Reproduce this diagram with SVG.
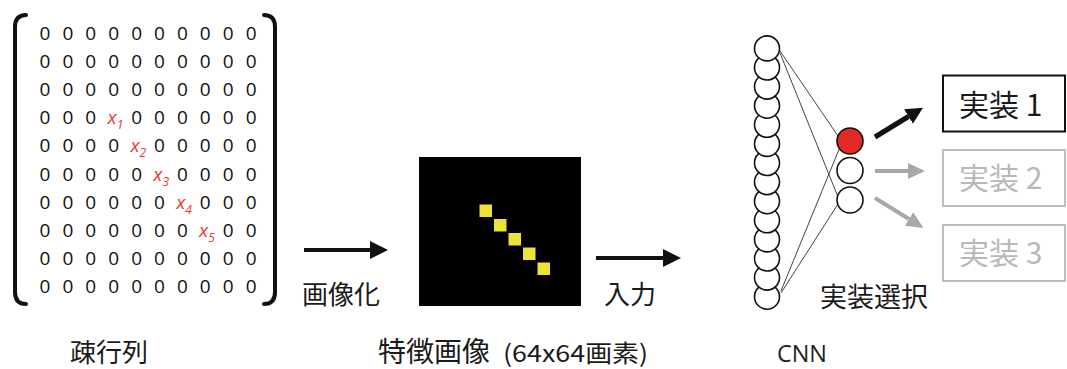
<svg xmlns="http://www.w3.org/2000/svg" width="1067" height="369" viewBox="0 0 1067 369">
<defs>
<style>
.z{font-family:"Open Sans","Noto Sans",sans-serif;font-size:19px;fill:#111;text-anchor:middle}
.xi{font-family:"Open Sans","Noto Sans",sans-serif;font-style:italic;font-size:19px;fill:#e8392f}
.xs{font-size:12px}
.jp{font-family:"Noto Sans CJK JP",sans-serif;fill:#1a1a1a}
.br{fill:none;stroke:#111;stroke-width:4;stroke-linecap:round}
.nn{fill:#fff;stroke:#111;stroke-width:1.6}
.wire{stroke:#444;stroke-width:1}
.ab{stroke:#111;stroke-width:4;fill:none}
.ag{stroke:#a8a8a8;stroke-width:4;fill:none}
.px{fill:#ebe23a}
</style>
<marker id="hb" markerUnits="userSpaceOnUse" markerWidth="18" markerHeight="18" refX="0" refY="9" orient="auto"><path d="M0,0 L18,9 L0,18 z" fill="#111"/></marker>
<marker id="hg" markerUnits="userSpaceOnUse" markerWidth="18" markerHeight="18" refX="0" refY="8" orient="auto"><path d="M0,0 L17,8 L0,16 z" fill="#a8a8a8"/></marker>
<marker id="hk" markerUnits="userSpaceOnUse" markerWidth="18" markerHeight="18" refX="0" refY="8.5" orient="auto"><path d="M0,0 L17,8.5 L0,17 z" fill="#111"/></marker>
</defs>
<rect width="1067" height="369" fill="#fff"/>

<g id="matrix">
<path class="br" d="M26,15 Q15,15 15,27 L15,292 Q15,304 26,304"/>
<path class="br" d="M264,15 Q275,15 275,27 L275,292 Q275,304 264,304"/>
<text class="z" x="45 67.9 90.8 113.7 136.6 159.5 182.4 205.3 228.2 251.1" y="39.5">0000000000</text>
<text class="z" x="45 67.9 90.8 113.7 136.6 159.5 182.4 205.3 228.2 251.1" y="67.7">0000000000</text>
<text class="z" x="45 67.9 90.8 113.7 136.6 159.5 182.4 205.3 228.2 251.1" y="95.9">0000000000</text>
<text class="z" x="45 67.9 90.8" y="124.1">000</text>
<text class="z" x="136.6 159.5 182.4 205.3 228.2 251.1" y="124.1">000000</text>
<text class="z" x="45 67.9 90.8 113.7" y="152.3">0000</text>
<text class="z" x="159.5 182.4 205.3 228.2 251.1" y="152.3">00000</text>
<text class="z" x="45 67.9 90.8 113.7 136.6" y="180.5">00000</text>
<text class="z" x="182.4 205.3 228.2 251.1" y="180.5">0000</text>
<text class="z" x="45 67.9 90.8 113.7 136.6 159.5" y="208.7">000000</text>
<text class="z" x="205.3 228.2 251.1" y="208.7">000</text>
<text class="z" x="45 67.9 90.8 113.7 136.6 159.5 182.4" y="236.9">0000000</text>
<text class="z" x="228.2 251.1" y="236.9">00</text>
<text class="z" x="45 67.9 90.8 113.7 136.6 159.5 182.4 205.3 228.2 251.1" y="265.1">0000000000</text>
<text class="z" x="45 67.9 90.8 113.7 136.6 159.5 182.4 205.3 228.2 251.1" y="293.3">0000000000</text>
<text class="xi" x="107.5" y="124.1">x<tspan class="xs" dy="5">1</tspan></text>
<text class="xi" x="130.4" y="152.3">x<tspan class="xs" dy="5">2</tspan></text>
<text class="xi" x="153.3" y="180.5">x<tspan class="xs" dy="5">3</tspan></text>
<text class="xi" x="176.2" y="208.7">x<tspan class="xs" dy="5">4</tspan></text>
<text class="xi" x="199.1" y="236.9">x<tspan class="xs" dy="5">5</tspan></text>
</g>

<g id="feature-image">
<rect x="419" y="157" width="162" height="149" fill="#000"/>
<rect class="px" x="479.5" y="204.5" width="12.5" height="12.5"/>
<rect class="px" x="494" y="219" width="12.5" height="12.5"/>
<rect class="px" x="508.5" y="233" width="12.5" height="12.5"/>
<rect class="px" x="523" y="247.5" width="12.5" height="12.5"/>
<rect class="px" x="537.5" y="262.5" width="12.5" height="12.5"/>
</g>

<g id="cnn">
<g class="wire">
<line x1="780" y1="51" x2="838" y2="136"/>
<line x1="780" y1="53" x2="838" y2="197"/>
<line x1="781" y1="291" x2="840" y2="147"/>
<line x1="781" y1="293" x2="838" y2="204"/>
</g>
<circle class="nn" cx="767" cy="296.7" r="12.5"/>
<circle class="nn" cx="767" cy="277.6" r="12.5"/>
<circle class="nn" cx="767" cy="258.5" r="12.5"/>
<circle class="nn" cx="767" cy="239.4" r="12.5"/>
<circle class="nn" cx="767" cy="220.3" r="12.5"/>
<circle class="nn" cx="767" cy="201.2" r="12.5"/>
<circle class="nn" cx="767" cy="182.1" r="12.5"/>
<circle class="nn" cx="767" cy="163.0" r="12.5"/>
<circle class="nn" cx="767" cy="143.9" r="12.5"/>
<circle class="nn" cx="767" cy="124.8" r="12.5"/>
<circle class="nn" cx="767" cy="105.7" r="12.5"/>
<circle class="nn" cx="767" cy="86.6" r="12.5"/>
<circle class="nn" cx="767" cy="67.5" r="12.5"/>
<circle class="nn" cx="767" cy="48.4" r="12.5"/>
<circle cx="850" cy="141" r="13" fill="#e32b25" stroke="#111" stroke-width="1.6"/>
<circle class="nn" cx="850" cy="170.5" r="13"/>
<circle class="nn" cx="850" cy="200" r="13"/>
</g>

<g id="impl1">
<rect x="943" y="75.5" width="122" height="56" fill="#fff" stroke="#111" stroke-width="2"/>
<text class="jp" x="959" y="116" font-size="30">実装 1</text>
</g>
<g id="impl2">
<rect x="943" y="150" width="122" height="56" fill="#fff" stroke="#bdbdbd" stroke-width="2"/>
<text class="jp" x="959" y="189" font-size="30" style="fill:#b8b8b8">実装 2</text>
</g>
<g id="impl3">
<rect x="943" y="225" width="122" height="56" fill="#fff" stroke="#bdbdbd" stroke-width="2"/>
<text class="jp" x="959" y="264" font-size="30" style="fill:#b8b8b8">実装 3</text>
</g>

<g id="connectors">
<line class="ab" x1="304" y1="250" x2="370" y2="250" marker-end="url(#hb)"/>
<line class="ab" x1="596" y1="258" x2="663" y2="258" marker-end="url(#hb)"/>
<line x1="875" y1="137" x2="908.5" y2="116.5" stroke="#111" stroke-width="5" marker-end="url(#hk)"/>
<line class="ag" x1="875" y1="171" x2="908" y2="171" marker-end="url(#hg)"/>
<line class="ag" x1="875" y1="198" x2="909" y2="219" marker-end="url(#hg)"/>
</g>

<g id="labels">
<text class="jp" x="302" y="304" font-size="26">画像化</text>
<text class="jp" x="604" y="304" font-size="26">入力</text>
<text class="jp" x="820" y="307" font-size="27">実装選択</text>
<text class="jp" x="70" y="362" font-size="26">疎行列</text>
<text class="jp" x="378" y="362" font-size="28">特徴画像</text>
<text class="jp" x="503" y="362" font-size="24" textLength="145" lengthAdjust="spacingAndGlyphs">(64x64画素)</text>
<text x="777" y="362" font-family="'Open Sans',sans-serif" font-size="23" fill="#222" textLength="50" lengthAdjust="spacingAndGlyphs">CNN</text>
</g>
</svg>
